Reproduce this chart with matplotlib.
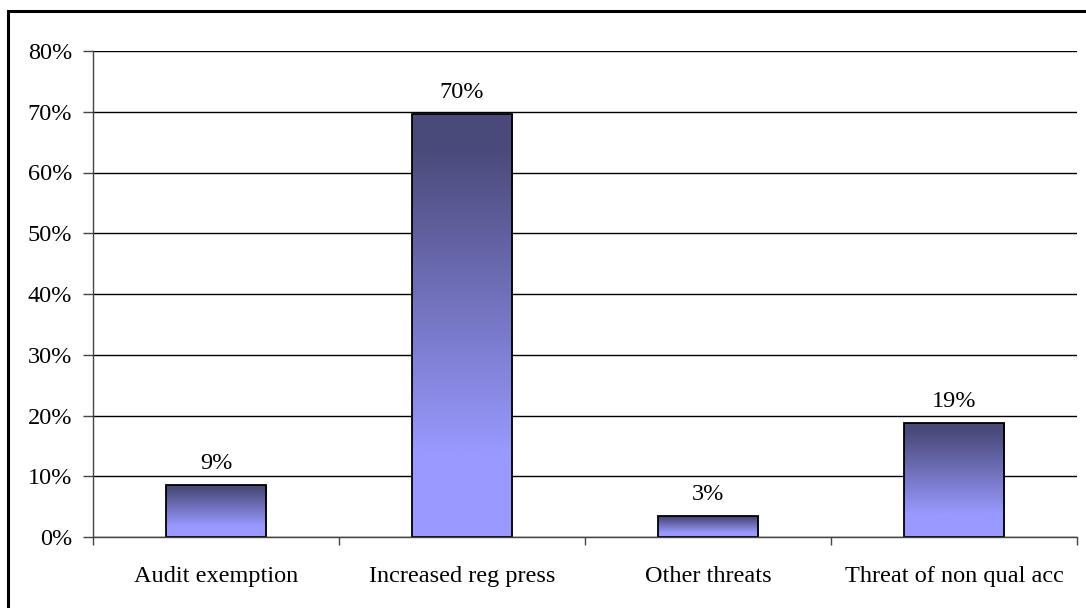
import numpy as np
import matplotlib
matplotlib.use("Agg")
import matplotlib.pyplot as plt
from matplotlib.patches import Rectangle
from matplotlib.colors import LinearSegmentedColormap

categories = ["Audit exemption", "Increased reg press", "Other threats", "Threat of non qual acc"]
shares = [8.6, 69.6, 3.4, 18.8]          # percent of respondents
y_ticks = [0, 10, 20, 30, 40, 50, 60, 70, 80]

plt.rcParams["font.family"] = ["Liberation Serif", "DejaVu Serif"]
plt.rcParams["font.size"] = 17.5

fig = plt.figure(figsize=(10.86, 6.08), dpi=100)
ax = fig.add_axes([93 / 1086, 1 - 537 / 608, (1077 - 93) / 1086, (537 - 51) / 608])

# chart border (left/top edges visible, right/bottom run off the canvas)
fig.patches.append(Rectangle((8 / 1086, -0.05), 1.2, 1 - 11 / 608 + 0.05,
                             transform=fig.transFigure, fill=False,
                             edgecolor="black", linewidth=2.2, zorder=10))

x = np.arange(len(categories))
bar_w = 0.41
bars = ax.bar(x, shares, width=bar_w, facecolor="none", edgecolor="black",
              linewidth=1.3, zorder=4)

# vertical gradient fill, dark at the top of each bar, light at the bottom
dark = np.array([74, 74, 122]) / 255
light = np.array([153, 153, 255]) / 255
cmap = LinearSegmentedColormap.from_list(
    "barfill", [(0.0, light), (0.2, light), (0.92, dark), (1.0, dark)])
grad = np.linspace(0, 1, 256).reshape(-1, 1)
for b in bars:
    x0, w, h = b.get_x(), b.get_width(), b.get_height()
    im = ax.imshow(grad, cmap=cmap, aspect="auto", origin="lower",
                   extent=(x0, x0 + w, 0, h), zorder=3, interpolation="bilinear")
    im.set_clip_path(b)

for xi, v in zip(x, shares):
    ax.annotate(f"{round(v)}%", (xi, v), xytext=(0, 8), textcoords="offset points",
                ha="center", va="bottom")

ax.set_xlim(-0.5, len(categories) - 0.5)
ax.set_ylim(0, 80)
ax.set_yticks(y_ticks)
ax.set_yticklabels([f"{t}%" for t in y_ticks])
ax.set_xticks(x)
ax.set_xticklabels(categories)
ax.set_xticks(np.arange(-0.5, len(categories)), minor=True)
ax.tick_params(axis="x", which="major", length=0, pad=21)
ax.tick_params(axis="x", which="minor", length=6, width=1, color="#444444")
ax.tick_params(axis="y", length=7, width=1, pad=8, color="#444444")

ax.yaxis.grid(True, color="black", linewidth=1)
ax.set_axisbelow(True)
for s in ["top", "right"]:
    ax.spines[s].set_visible(False)
for s in ["left", "bottom"]:
    ax.spines[s].set_color("#444444")
    ax.spines[s].set_linewidth(1)
ax.spines["bottom"].set_zorder(5)

fig.savefig("out.png", dpi=100, facecolor="white")
